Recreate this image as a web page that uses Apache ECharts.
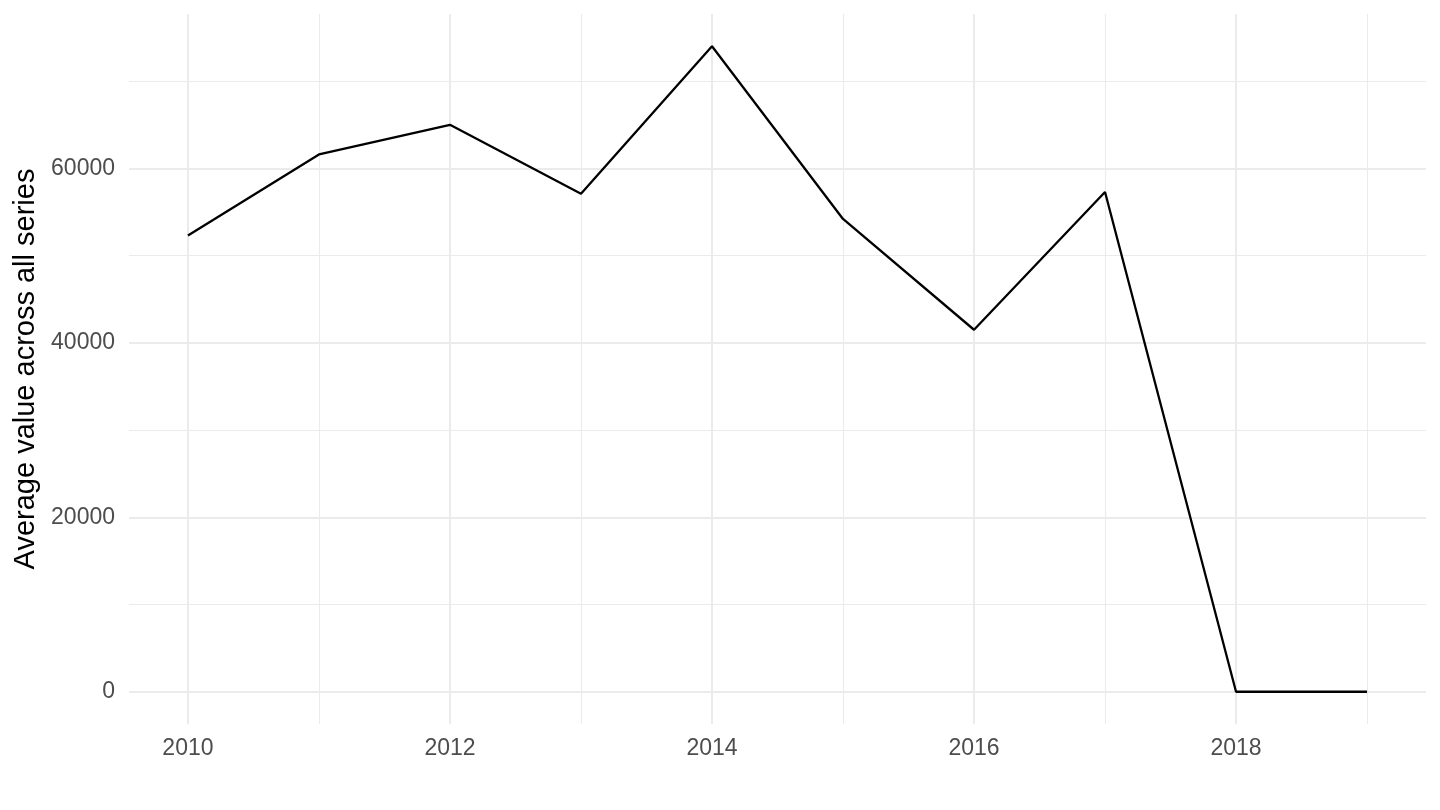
<!DOCTYPE html>
<html>
<head>
<meta charset="utf-8">
<script src="https://cdn.jsdelivr.net/npm/echarts@6/dist/echarts.min.js"></script>
<style>html,body{margin:0;padding:0;background:#fff}#c{width:1440px;height:810px}</style>
</head>
<body>
<div id="c"></div>
<script>
const years = [2010, 2011, 2012, 2013, 2014, 2015, 2016, 2017, 2018, 2019];
const values = [52300, 61600, 65000, 57100, 74000, 54200, 41500, 57300, 0, 0];
const xMajorTicks = [2010, 2012, 2014, 2016, 2018];
const xMinorTicks = [2011, 2013, 2015, 2017, 2019];
const yMajorTicks = [0, 20000, 40000, 60000];
const yMinorTicks = [10000, 30000, 50000, 70000];
const yTitle = 'Average value across all series';

const xMin = 2009.55, xMax = 2019.45;
const yMin = -3700, yMax = 77700;
const font = 'Liberation Sans, Arial, Helvetica, sans-serif';
const grid = '#EBEBEB';

const chart = echarts.init(document.getElementById('c'));
chart.setOption({
  animation: false,
  backgroundColor: '#fff',
  grid: {left: 129, right: 14, top: 14, bottom: 86, containLabel: false},
  xAxis: [
    {type: 'value', min: xMin, max: xMax, position: 'bottom',
     axisLine: {show: false},
     axisTick: {show: false, customValues: xMajorTicks},
     axisLabel: {customValues: xMajorTicks, color: '#4D4D4D', fontSize: 23, fontFamily: font, margin: 13,
                 formatter: v => String(v)},
     splitLine: {show: true, lineStyle: {color: grid, width: 2}}},
    {type: 'value', min: xMin, max: xMax, position: 'bottom',
     axisLine: {show: false},
     axisTick: {show: false, customValues: xMinorTicks},
     axisLabel: {show: false, customValues: xMinorTicks},
     splitLine: {show: true, lineStyle: {color: grid, width: 1.1}}}
  ],
  yAxis: [
    {type: 'value', min: yMin, max: yMax, position: 'left',
     name: yTitle, nameLocation: 'middle', nameGap: 87,
     nameTextStyle: {color: '#000', fontSize: 29, fontFamily: font},
     axisLine: {show: false},
     axisTick: {show: false, customValues: yMajorTicks},
     axisLabel: {customValues: yMajorTicks, color: '#4D4D4D', fontSize: 23, fontFamily: font, margin: 14,
                 padding: [3, 0, 0, 0], formatter: v => String(v)},
     splitLine: {show: true, lineStyle: {color: grid, width: 2}}},
    {type: 'value', min: yMin, max: yMax, position: 'left',
     axisLine: {show: false},
     axisTick: {show: false, customValues: yMinorTicks},
     axisLabel: {show: false, customValues: yMinorTicks},
     splitLine: {show: true, lineStyle: {color: grid, width: 1.1}}}
  ],
  series: [{
    type: 'line',
    xAxisIndex: 0, yAxisIndex: 0,
    data: years.map((y, i) => [y, values[i]]),
    showSymbol: false,
    symbol: 'none',
    lineStyle: {color: '#000', width: 2.3},
    z: 10
  }]
});
</script>
</body>
</html>
